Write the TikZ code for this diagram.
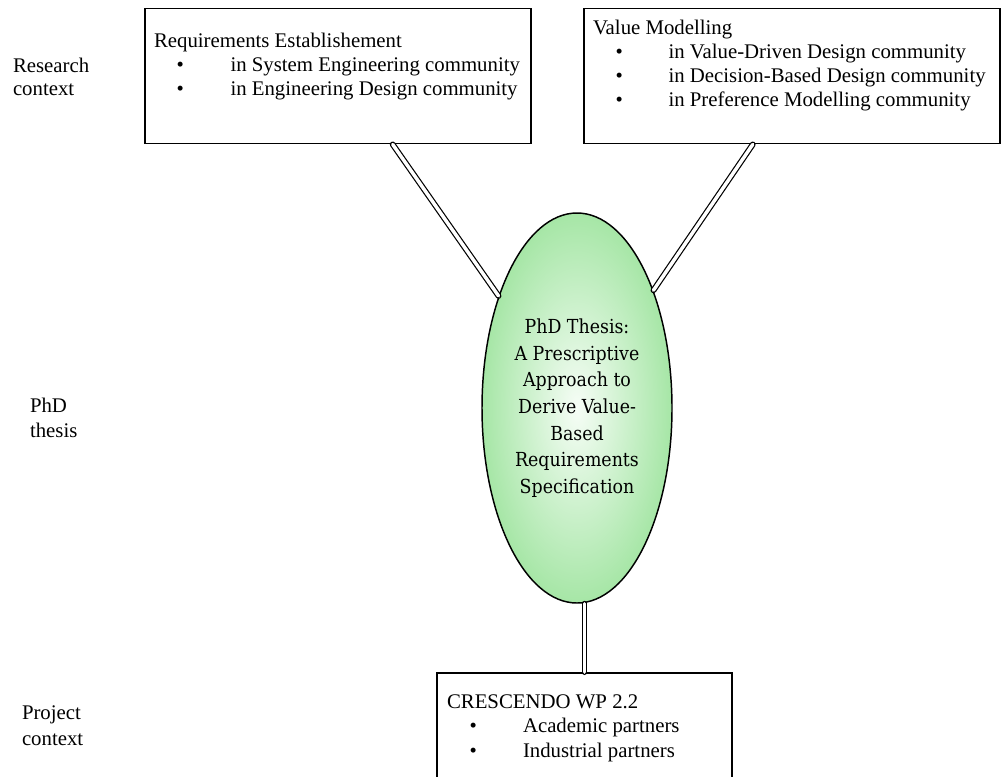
\documentclass[tikz,border=0pt]{standalone}
\usepackage{fontspec}
\setmainfont{Liberation Serif}
\newfontfamily\ellfont{DejaVu Serif Condensed}
\usetikzlibrary{shapes.geometric,calc}
\begin{document}
\begin{tikzpicture}[x=0.75pt,y=-0.75pt,
  txt/.style={anchor=base west,inner sep=0pt,outer sep=0pt,font=\fontsize{15.6pt}{18pt}\selectfont},
  boxnode/.style={draw=black,line width=1.4pt,rectangle,inner sep=0pt},
  ellnode/.style={draw=black,line width=1.1pt,ellipse,inner sep=0pt,
     minimum width=142.5pt,minimum height=292.5pt,
     inner color=elllight,outer color=elldark,
     align=center,font=\ellfont\fontsize{14.5pt}{20pt}\selectfont},
  link/.style={draw=black,line width=0.9pt,double=white,double distance=2.6pt,line cap=round}]
\definecolor{elllight}{RGB}{246,253,246}
\definecolor{elldark}{RGB}{166,230,166}
\clip (0,0) rectangle (1002,776);
\fill[white] (0,0) rectangle (1002,776);
% boxes
\node[boxnode,minimum width=289.5pt,minimum height=101.25pt] (b1) at (338,76) {};
\node[boxnode,minimum width=312pt,minimum height=101.25pt] (b2) at (792,76) {};
\node[boxnode,minimum width=221.25pt,minimum height=95.25pt] (b3) at (584.5,736.5) {};
% ellipse
\node[ellnode] (ell) at (577,408) {PhD Thesis:\\A Prescriptive\\Approach to\\Derive Value-\\Based\\Requirements\\Specification};
% connectors
\draw[link] ($(b1.south west)!0.641!(b1.south east)$) -- (ell.125);
\draw[link] ($(b2.south west)!0.406!(b2.south east)$) -- (ell.57);
\draw[link] (b3.north |- ell.south) -- (b3.north);
% box 1 text
\node[txt] (t11) at (154,47) {Requirements Establishement};
\node[txt] (t12b) at (176.5,71.5) {•};
\node[txt] (t12) at (230.5,71.5) {in System Engineering community};
\node[txt] (t13b) at (176.5,95.5) {•};
\node[txt] (t13) at (230.5,95.5) {in Engineering Design community};
% box 2 text
\node[txt] (t21) at (593,34) {Value Modelling};
\node[txt] (t22b) at (615.5,58) {•};
\node[txt] (t22) at (668.5,58) {in Value-Driven Design community};
\node[txt] (t23b) at (615.5,82) {•};
\node[txt] (t23) at (668.5,82) {in Decision-Based Design community};
\node[txt] (t24b) at (615.5,106) {•};
\node[txt] (t24) at (668.5,106) {in Preference Modelling community};
% box 3 text
\node[txt] (t31) at (447,708) {CRESCENDO WP 2.2};
\node[txt] (t32b) at (469.5,732) {•};
\node[txt] (t32) at (523,732) {Academic partners};
\node[txt] (t33b) at (469.5,757) {•};
\node[txt] (t33) at (523,757) {Industrial partners};
% left labels
\node[txt] (l1) at (13,72) {Research};
\node[txt] (l2) at (13,95) {context};
\node[txt] (l3) at (30,412) {PhD};
\node[txt] (l4) at (30,437) {thesis};
\node[txt] (l5) at (22,719) {Project};
\node[txt] (l6) at (22,745) {context};
\end{tikzpicture}
\end{document}
